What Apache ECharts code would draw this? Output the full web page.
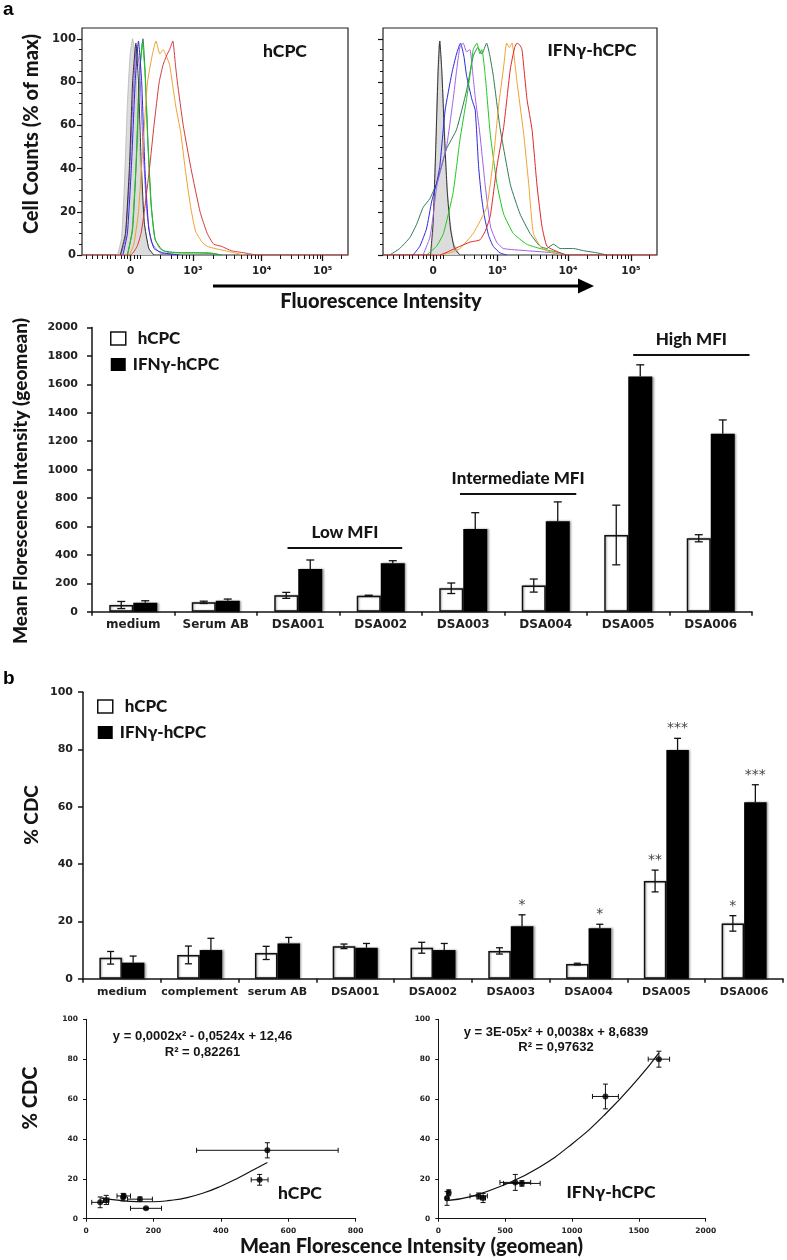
<!DOCTYPE html>
<html><head><meta charset="utf-8">
<script src="https://cdn.jsdelivr.net/npm/echarts@6/dist/echarts.min.js"></script>
<style>html,body{margin:0;padding:0;background:#fff}#c{width:787px;height:1260px}</style>
</head><body><div id="c"></div>
<script>
// ---------- histogram data (x in display units: 2 = "0", ~3 = 10^3, ...) ----------
const HIST_TICK_POS = [2, 2.96, 4.02, 4.96];
const HIST_TICK_LABELS = ['0', '10³', '10⁴', '10⁵'];
const HIST_MINOR_TICKS = [1.31,1.41,1.49,1.56,1.64,1.69,1.77,1.85,1.9,1.95,2.05,2.1,2.15,2.46,2.62,2.72,2.8,2.85,2.9,
  3.28,3.47,3.6,3.7,3.79,3.86,3.92,3.97,4.3,4.47,4.59,4.68,4.75,4.81,4.87,4.92,5.24];
const HIST_Y_TICKS = [0,20,40,60,80,100];
const HIST_Y_MINOR = [5,10,15,25,30,35,45,50,55,65,70,75,85,90,95];

const H1_GRAY = [[1.80,0],[1.86,8],[1.90,30],[1.95,70],[1.99,92],[2.03,100],[2.07,92],[2.12,60],[2.17,30],[2.22,12],[2.28,3],[2.35,0]];
const H1_BLACK = [[1.84,0],[1.92,10],[1.98,40],[2.03,80],[2.08,98],[2.12,80],[2.16,45],[2.21,15],[2.28,3],[2.36,0]];
const H1_PURPLE = [[1.85,0],[1.92,8],[1.98,35],[2.04,75],[2.09,97],[2.14,85],[2.19,50],[2.25,20],[2.32,6],[2.45,1],[2.7,0]];
const H1_BLUE = [[1.88,0],[1.95,10],[2.01,40],[2.07,80],[2.12,99],[2.17,80],[2.22,40],[2.28,12],[2.36,3],[2.5,1],[2.75,0]];
const H1_DKGREEN = [[1.95,0],[2.03,12],[2.09,45],[2.14,85],[2.19,100],[2.23,80],[2.27,50],[2.32,22],[2.38,7],[2.5,2],[2.8,1],[3.2,1],[3.4,0]];
const H1_GREEN = [[1.95,0],[2.02,10],[2.08,40],[2.13,80],[2.18,98],[2.22,85],[2.26,55],[2.31,25],[2.37,8],[2.45,3],[2.6,1],[3.0,1],[3.3,0.5],[3.4,0]];
const H1_ORANGE = [[1.98,0],[2.05,5],[2.12,20],[2.2,55],[2.26,80],[2.33,92],[2.39,99],[2.45,93],[2.5,95],[2.55,92],[2.6,88],[2.65,78],[2.7,68],[2.77,57],[2.84,40],[2.92,23],[3.0,11],[3.1,6],[3.18,4],[3.3,3],[3.45,2],[3.6,1],[3.75,0]];
const H1_RED = [[1.25,0],[2.0,0],[2.1,4],[2.16,10],[2.21,20],[2.29,40],[2.36,60],[2.44,80],[2.5,88],[2.55,92],[2.6,95],[2.65,99],[2.69,88],[2.72,80],[2.81,60],[2.93,40],[3.07,20],[3.18,10],[3.28,5],[3.4,4],[3.55,2],[3.75,1],[3.95,0],[5.35,0]];

const H2_GRAY = [[1.97,0],[2.0,12],[2.03,40],[2.06,75],[2.09,98],[2.12,90],[2.155,70],[2.195,40],[2.23,22],[2.3,6],[2.4,0]];
const H2_BLACK = [[1.96,0],[2.0,15],[2.04,50],[2.075,85],[2.1,99],[2.13,85],[2.17,55],[2.21,30],[2.26,12],[2.32,3],[2.4,0]];
const H2_DKGREEN = [[1.35,0],[1.5,3],[1.65,8],[1.75,14],[1.85,22],[1.95,26],[2.05,33],[2.2,49],[2.35,58],[2.5,76],[2.6,92],[2.67,96],[2.73,93],[2.8,98],[2.85,92],[2.9,83],[3.0,59],[3.08,45],[3.16,32],[3.3,19],[3.45,10],[3.6,4],[3.7,3],[3.8,5],[3.9,3],[4.1,3],[4.25,2],[4.45,1],[4.6,0]];
const H2_BLUE = [[1.7,0],[1.8,4],[1.9,12],[1.98,25],[2.05,33],[2.1,41],[2.18,67],[2.28,84],[2.35,93],[2.41,98],[2.46,92],[2.5,83],[2.58,72],[2.63,67],[2.68,41],[2.72,28],[2.76,19],[2.83,9],[2.9,4],[3.0,1],[3.1,0]];
const H2_PURPLE = [[1.85,0],[1.95,8],[2.0,18],[2.055,32],[2.2,50],[2.3,72],[2.35,85],[2.4,96],[2.45,98],[2.5,94],[2.55,95],[2.6,82],[2.63,73],[2.7,56],[2.78,32],[2.86,13],[2.95,6],[3.05,3],[3.4,2],[3.8,1],[3.95,0]];
const H2_GREEN = [[1.9,0],[2.05,4],[2.155,10],[2.3,29],[2.4,53],[2.5,72],[2.56,85],[2.6,95],[2.655,98],[2.7,93],[2.73,95],[2.78,83],[2.855,56],[2.955,33],[3.055,19],[3.2,10],[3.4,5],[3.6,3],[3.9,1],[4.0,0]];
const H2_ORANGE = [[2.1,0],[2.25,1],[2.4,3],[2.6,10],[2.8,22],[2.9,44],[2.98,69],[3.055,87],[3.1,98],[3.14,96],[3.18,98],[3.255,80],[3.355,56],[3.43,33],[3.5,10],[3.63,3],[3.8,1],[3.9,0]];
const H2_RED = [[1.25,0],[2.1,0],[2.255,2],[2.4,4],[2.555,6],[2.7,7],[2.78,11],[2.855,18],[2.955,41],[3.055,59],[3.155,86],[3.22,96],[3.255,98],[3.3,97],[3.33,95],[3.405,72],[3.48,58],[3.555,32],[3.63,13],[3.705,4],[3.9,1],[4.0,0],[5.35,0]];

// ---------- panel a: MFI bars ----------
const CAT_A = ['medium','Serum AB','DSA001','DSA002','DSA003','DSA004','DSA005','DSA006'];
const MFI_HCPC = [47, 66, 115, 113, 165, 184, 540, 517];
const MFI_HCPC_ERR = [25, 8, 21, 3, 37, 46, 210, 25];
const MFI_IFN = [63, 77, 300, 341, 582, 636, 1655, 1253];
const MFI_IFN_ERR = [14, 12, 64, 18, 115, 137, 83, 97];
const BRACKET_LABELS = ['Low MFI', 'Intermediate MFI', 'High MFI'];
const BRACKET_CATS = [[2, 3], [4, 5], [6, 7]];
const BRACKET_Y = [448, 828, 1807];

// ---------- panel b: CDC bars ----------
const CAT_B = ['medium','complement','serum AB','DSA001','DSA002','DSA003','DSA004','DSA005','DSA006'];
const CDC_HCPC = [7.3, 8.3, 9.0, 11.3, 10.8, 9.7, 5.1, 34.1, 19.3];
const CDC_HCPC_ERR = [2.2, 3.1, 2.3, 0.8, 1.9, 1.1, 0.3, 3.8, 2.7];
const CDC_IFN = [5.6, 10.0, 12.3, 10.8, 10.0, 18.3, 17.6, 79.8, 61.6];
const CDC_IFN_ERR = [2.3, 4.1, 2.1, 1.5, 2.3, 4.0, 1.4, 4.1, 6.1];
const STARS_HCPC = ['', '', '', '', '', '', '', '**', '*'];
const STARS_IFN = ['', '', '', '', '', '*', '*', '***', '***'];

// ---------- correlation scatters ----------
const SC1_X = [42, 60, 112, 110, 160, 178, 538, 515];
const SC1_XERR = [25, 8, 20, 4, 37, 46, 210, 25];
const SC1_Y = [8.2, 9.4, 11.4, 10.8, 9.8, 5.2, 34.3, 19.5];
const SC1_YERR = [2.7, 2.3, 1.0, 1.9, 1.1, 0.5, 3.8, 2.7];
const SC1_TREND = [[45,10.3],[100,9.2],[150,8.6],[200,8.5],[250,9.2],[300,10.6],[350,13.0],[400,16.3],[450,20.3],[500,24.8],[538,28.2]];
const SC2_X = [65, 78, 302, 335, 576, 625, 1650, 1250];
const SC2_XERR = [12, 10, 65, 18, 115, 137, 80, 97];
const SC2_Y = [10.2, 13.0, 11.4, 10.4, 18.2, 17.7, 80.0, 61.3];
const SC2_YERR = [3.5, 1.5, 1.5, 2.3, 4.0, 1.4, 4.0, 6.2];
const SC2_TREND = [[60,9.1],[250,11.2],[500,17.2],[750,25.6],[1000,37.5],[1250,52.5],[1500,70.6],[1650,83.2]];

// ---------- styles ----------
const BIG = 'Lato, "Open Sans", "Noto Sans", sans-serif';
const BIGW = 900;
const TICKF = '"DejaVu Sans", Verdana, sans-serif';
const ARIAL = '"Liberation Sans", Arial, sans-serif';
const INK = '#151515';
const plain = v => String(v);

const chart = echarts.init(document.getElementById('c'), null, {renderer: 'canvas'});

function histX(grid, major) {
  return major ? {
    type: 'value', gridIndex: grid, min: 1.25, max: 5.35, position: 'bottom',
    splitLine: {show: false}, axisLine: {show: false},
    axisTick: {show: true, length: 6, customValues: HIST_TICK_POS, lineStyle: {color: INK, width: 1.3}},
    axisLabel: {show: true, customValues: HIST_TICK_POS, margin: 11, fontFamily: TICKF, fontWeight: 'bold', fontSize: 10.5, color: '#222',
      formatter: v => { const i = HIST_TICK_POS.findIndex(p => Math.abs(p - v) < 1e-6); return i >= 0 ? HIST_TICK_LABELS[i] : ''; }}
  } : {
    type: 'value', gridIndex: grid, min: 1.25, max: 5.35, position: 'bottom',
    splitLine: {show: false}, axisLine: {show: false}, axisLabel: {show: false},
    axisTick: {show: true, length: 4, customValues: HIST_MINOR_TICKS, lineStyle: {color: INK, width: 1}}
  };
}
function histY(grid, major, labels) {
  return major ? {
    type: 'value', gridIndex: grid, min: 0, max: 105, position: 'left',
    splitLine: {show: false}, axisLine: {show: false},
    axisTick: {show: true, length: 5, customValues: HIST_Y_TICKS, lineStyle: {color: INK, width: 1.2}},
    axisLabel: {show: labels, customValues: HIST_Y_TICKS, margin: 6, fontFamily: TICKF, fontWeight: 'bold', fontSize: 11.5, color: '#222', formatter: plain}
  } : {
    type: 'value', gridIndex: grid, min: 0, max: 105, position: 'left',
    splitLine: {show: false}, axisLine: {show: false}, axisLabel: {show: false},
    axisTick: {show: true, length: 3, customValues: HIST_Y_MINOR, lineStyle: {color: INK, width: 1}}
  };
}
function hist(data, color, xi, yi, extra) {
  return Object.assign({type: 'line', xAxisIndex: xi, yAxisIndex: yi, data: data, showSymbol: false, smooth: 0.15,
    silent: true, lineStyle: {color: color, width: 1}}, extra || {});
}
function grayHist(data, xi, yi) {
  return hist(data, '#b0b0b0', xi, yi, {lineStyle: {color: '#b8b8b8', width: 0.8}, areaStyle: {color: '#dcdcdc', opacity: 1}});
}

function catErr(barW, side, both, capW, stars) {
  return function (params, api) {
    const i = api.value(0), v = api.value(1), e = api.value(2);
    const x = api.coord([i, v])[0] + side * barW / 2;
    const yTop = api.coord([i, v + e])[1];
    const yBot = both ? api.coord([i, v - e])[1] : api.coord([i, v])[1];
    const st = {stroke: '#111', lineWidth: 1.3};
    const ch = [
      {type: 'line', shape: {x1: x, y1: yTop, x2: x, y2: yBot}, style: st},
      {type: 'line', shape: {x1: x - capW / 2, y1: yTop, x2: x + capW / 2, y2: yTop}, style: st}
    ];
    if (both) ch.push({type: 'line', shape: {x1: x - capW / 2, y1: yBot, x2: x + capW / 2, y2: yBot}, style: st});
    if (stars && stars[params.dataIndex]) {
      ch.push({type: 'text', style: {text: stars[params.dataIndex], x: x, y: yTop - 9.5, align: 'center', verticalAlign: 'middle',
        fontSize: 14, fontFamily: TICKF, fill: '#444'}});
    }
    return {type: 'group', children: ch};
  };
}
function xyErr(params, api) {
  const x = api.value(0), y = api.value(1), xe = api.value(2), ye = api.value(3);
  const c = api.coord([x, y]);
  const xl = api.coord([x - xe, y])[0], xr = api.coord([x + xe, y])[0];
  const yt = api.coord([x, y + ye])[1], yb = api.coord([x, y - ye])[1];
  const st = {stroke: '#111', lineWidth: 1}, cap = 2.5;
  return {type: 'group', children: [
    {type: 'line', shape: {x1: xl, y1: c[1], x2: xr, y2: c[1]}, style: st},
    {type: 'line', shape: {x1: xl, y1: c[1] - cap, x2: xl, y2: c[1] + cap}, style: st},
    {type: 'line', shape: {x1: xr, y1: c[1] - cap, x2: xr, y2: c[1] + cap}, style: st},
    {type: 'line', shape: {x1: c[0], y1: yt, x2: c[0], y2: yb}, style: st},
    {type: 'line', shape: {x1: c[0] - cap, y1: yt, x2: c[0] + cap, y2: yt}, style: st},
    {type: 'line', shape: {x1: c[0] - cap, y1: yb, x2: c[0] + cap, y2: yb}, style: st}
  ]};
}
const BRACKET_OFFSETS = [[-0.13, 0.26], [-0.04, 0.37], [0.06, 0.47]];
function bracket(params, api) {
  const k = params.dataIndex;
  const w = api.size([1, 0])[0];
  const p1 = api.coord([api.value(0), api.value(2)]);
  const p2 = api.coord([api.value(1), api.value(2)]);
  const x1 = p1[0] + BRACKET_OFFSETS[k][0] * w, x2 = p2[0] + BRACKET_OFFSETS[k][1] * w;
  return {type: 'group', children: [
    {type: 'line', shape: {x1: x1, y1: p1[1], x2: x2, y2: p1[1]}, style: {stroke: '#111', lineWidth: 2}},
    {type: 'text', style: {text: BRACKET_LABELS[k], x: (x1 + x2) / 2, y: p1[1] - 16, align: 'center', verticalAlign: 'middle',
      fontSize: 17, fontWeight: BIGW, fontFamily: BIG, fill: INK}}
  ]};
}

const catAxisCommon = {
  axisLine: {lineStyle: {color: INK, width: 1.5}},
  axisTick: {show: true, length: 4, lineStyle: {color: INK, width: 1.5}},
  splitLine: {show: false}
};
const valAxisCommon = {
  axisLine: {show: true, lineStyle: {color: INK, width: 1.5}},
  axisTick: {show: true, length: 5, lineStyle: {color: INK, width: 1.5}},
  splitLine: {show: false}
};

const BW_A = 24, BW_B = 22.5;
const whiteBar = {color: '#fff', borderColor: '#111', borderWidth: 1.5, shadowColor: 'rgba(0,0,0,0.35)', shadowBlur: 2, shadowOffsetX: 1};
const blackBar = {color: '#000', shadowColor: 'rgba(0,0,0,0.4)', shadowBlur: 2, shadowOffsetX: 1.5};

function legendDef(left, top) {
  return {left: left, top: top, orient: 'vertical', padding: 0, itemWidth: 15, itemHeight: 13, itemGap: 9,
    selectedMode: false, icon: 'rect',
    textStyle: {fontFamily: BIG, fontWeight: BIGW, fontSize: 17, lineHeight: 17, color: INK},
    data: [
      {name: 'hCPC', itemStyle: {color: '#fff', borderColor: '#111', borderWidth: 1.5}, textStyle: {padding: [0, 0, 0, 7]}},
      {name: 'IFNγ-hCPC', itemStyle: {color: '#000', borderWidth: 0}, textStyle: {padding: [0, 0, 0, 2]}}
    ]};
}

function bigText(text, x, y, size, rot) {
  return {type: 'text', x: x, y: y, rotation: rot ? Math.PI / 2 : 0,
    style: {text: text, align: 'center', verticalAlign: 'middle', fontSize: size, fontWeight: BIGW, fontFamily: BIG, fill: INK}};
}
function eqText(text, x, y) {
  return {type: 'text', x: x, y: y, style: {text: text, align: 'center', verticalAlign: 'middle', fontSize: 13, fontWeight: 'bold', fontFamily: ARIAL, fill: INK}};
}
const scLabel = {margin: 8, fontFamily: TICKF, fontWeight: 'bold', fontSize: 7.5, color: '#222', formatter: plain};
const scLine = {axisLine: {show: true, lineStyle: {color: INK, width: 1}}, axisTick: {show: true, length: 3, lineStyle: {color: INK, width: 1}}, splitLine: {show: false}};

const option = {
  animation: false,
  backgroundColor: '#fff',
  grid: [
    {left: 82, top: 28, width: 266, height: 227, show: true, borderColor: '#222', borderWidth: 1.2, backgroundColor: 'transparent'},
    {left: 383, top: 28, width: 274, height: 227, show: true, borderColor: '#222', borderWidth: 1.2, backgroundColor: 'transparent'},
    {left: 92, top: 327.6, width: 660, height: 284.1},
    {left: 83, top: 692.2, width: 700, height: 286.5},
    {left: 86, top: 1019.3, width: 269.7, height: 199.4},
    {left: 438.3, top: 1019.3, width: 267.4, height: 199.4}
  ],
  xAxis: [
    histX(0, true), histX(0, false), histX(1, true), histX(1, false),
    Object.assign({type: 'category', gridIndex: 2, data: CAT_A,
      axisLabel: {margin: 7, interval: 0, fontFamily: TICKF, fontWeight: 'bold', fontSize: 12, color: '#222'}}, catAxisCommon),
    Object.assign({type: 'category', gridIndex: 3, data: CAT_B,
      axisLabel: {margin: 8, interval: 0, fontFamily: TICKF, fontWeight: 'bold', fontSize: 11, color: '#222'}}, catAxisCommon),
    Object.assign({type: 'value', gridIndex: 4, min: 0, max: 800, interval: 200, axisLabel: scLabel}, scLine),
    Object.assign({type: 'value', gridIndex: 5, min: 0, max: 2000, interval: 500, axisLabel: scLabel}, scLine)
  ],
  yAxis: [
    histY(0, true, true), histY(0, false), histY(1, true, false), histY(1, false),
    Object.assign({type: 'value', gridIndex: 2, min: 0, max: 2000, interval: 200,
      axisLabel: {margin: 14, fontFamily: TICKF, fontWeight: 'bold', fontSize: 11, color: '#222', formatter: plain}}, valAxisCommon),
    Object.assign({type: 'value', gridIndex: 3, min: 0, max: 100, interval: 20,
      axisLabel: {margin: 10, fontFamily: TICKF, fontWeight: 'bold', fontSize: 11, color: '#222', formatter: plain}}, valAxisCommon),
    Object.assign({type: 'value', gridIndex: 4, min: 0, max: 100, interval: 20, axisLabel: scLabel}, scLine),
    Object.assign({type: 'value', gridIndex: 5, min: 0, max: 100, interval: 20, axisLabel: scLabel}, scLine)
  ],
  legend: [legendDef(110, 330), legendDef(97, 698)],
  series: [
    // hist 1
    grayHist(H1_GRAY, 0, 0),
    hist(H1_DKGREEN, '#2e7a55', 0, 0),
    hist(H1_GREEN, '#1ec81e', 0, 0),
    hist(H1_PURPLE, '#a060e8', 0, 0),
    hist(H1_BLUE, '#2a2ad8', 0, 0),
    hist(H1_BLACK, '#333', 0, 0),
    hist(H1_ORANGE, '#f0a030', 0, 0),
    hist(H1_RED, '#d23c3c', 0, 0),
    // hist 2
    grayHist(H2_GRAY, 2, 2),
    hist(H2_BLACK, '#333', 2, 2),
    hist(H2_DKGREEN, '#2e7a55', 2, 2),
    hist(H2_BLUE, '#2a2ad8', 2, 2),
    hist(H2_PURPLE, '#a060e8', 2, 2),
    hist(H2_GREEN, '#1ec81e', 2, 2),
    hist(H2_ORANGE, '#f0a030', 2, 2),
    hist(H2_RED, '#e02626', 2, 2),
    // bar a
    {type: 'bar', name: 'hCPC', xAxisIndex: 4, yAxisIndex: 4, data: MFI_HCPC, barWidth: BW_A, barGap: '0%', itemStyle: whiteBar},
    {type: 'bar', name: 'IFNγ-hCPC', xAxisIndex: 4, yAxisIndex: 4, data: MFI_IFN, barWidth: BW_A, barGap: '0%', itemStyle: blackBar},
    {type: 'custom', xAxisIndex: 4, yAxisIndex: 4, encode: {x: 0, y: 1}, z: 5, clip: false,
      data: CAT_A.map((c, i) => [i, MFI_HCPC[i], MFI_HCPC_ERR[i]]), renderItem: catErr(BW_A, -1, true, 8)},
    {type: 'custom', xAxisIndex: 4, yAxisIndex: 4, encode: {x: 0, y: 1}, z: 5, clip: false,
      data: CAT_A.map((c, i) => [i, MFI_IFN[i], MFI_IFN_ERR[i]]), renderItem: catErr(BW_A, 1, false, 8)},
    {type: 'custom', xAxisIndex: 4, yAxisIndex: 4, encode: {x: 0, y: 2}, z: 5, clip: false,
      data: BRACKET_CATS.map((c, i) => [c[0], c[1], BRACKET_Y[i]]), renderItem: bracket},
    // bar b
    {type: 'bar', name: 'hCPC', xAxisIndex: 5, yAxisIndex: 5, data: CDC_HCPC, barWidth: BW_B, barGap: '0%', itemStyle: whiteBar},
    {type: 'bar', name: 'IFNγ-hCPC', xAxisIndex: 5, yAxisIndex: 5, data: CDC_IFN, barWidth: BW_B, barGap: '0%', itemStyle: blackBar},
    {type: 'custom', xAxisIndex: 5, yAxisIndex: 5, encode: {x: 0, y: 1}, z: 5, clip: false,
      data: CAT_B.map((c, i) => [i, CDC_HCPC[i], CDC_HCPC_ERR[i]]), renderItem: catErr(BW_B, -1, true, 7, STARS_HCPC)},
    {type: 'custom', xAxisIndex: 5, yAxisIndex: 5, encode: {x: 0, y: 1}, z: 5, clip: false,
      data: CAT_B.map((c, i) => [i, CDC_IFN[i], CDC_IFN_ERR[i]]), renderItem: catErr(BW_B, 1, false, 7, STARS_IFN)},
    // scatter 1
    {type: 'line', xAxisIndex: 6, yAxisIndex: 6, data: SC1_TREND, smooth: true, showSymbol: false, silent: true, lineStyle: {color: '#111', width: 1.2}},
    {type: 'custom', xAxisIndex: 6, yAxisIndex: 6, encode: {x: 0, y: 1}, clip: false,
      data: SC1_X.map((x, i) => [x, SC1_Y[i], SC1_XERR[i], SC1_YERR[i]]), renderItem: xyErr},
    {type: 'scatter', xAxisIndex: 6, yAxisIndex: 6, symbolSize: 6, itemStyle: {color: '#000'},
      data: SC1_X.map((x, i) => [x, SC1_Y[i]])},
    // scatter 2
    {type: 'line', xAxisIndex: 7, yAxisIndex: 7, data: SC2_TREND, smooth: true, showSymbol: false, silent: true, lineStyle: {color: '#111', width: 1.2}},
    {type: 'custom', xAxisIndex: 7, yAxisIndex: 7, encode: {x: 0, y: 1}, clip: false,
      data: SC2_X.map((x, i) => [x, SC2_Y[i], SC2_XERR[i], SC2_YERR[i]]), renderItem: xyErr},
    {type: 'scatter', xAxisIndex: 7, yAxisIndex: 7, symbolSize: 6, itemStyle: {color: '#000'},
      data: SC2_X.map((x, i) => [x, SC2_Y[i]])}
  ],
  graphic: [
    {type: 'text', left: 3, top: 0, style: {text: 'a', fontSize: 19, fontWeight: 'bold', fontFamily: ARIAL, fill: '#000'}},
    {type: 'text', left: 3, top: 669, style: {text: 'b', fontSize: 19, fontWeight: 'bold', fontFamily: ARIAL, fill: '#000'}},
    bigText('Cell Counts (% of max)', 32, 134, 20, true),
    bigText('hCPC', 285, 51.5, 17.5),
    bigText('IFNγ-hCPC', 592, 50, 17.5),
    {type: 'polyline', shape: {points: [[213, 286], [582, 286]]}, style: {stroke: '#000', lineWidth: 3.2}},
    {type: 'polygon', shape: {points: [[578, 278.5], [594, 286], [578, 293.5]]}, style: {fill: '#000'}},
    bigText('Fluorescence Intensity', 381, 302, 20),
    bigText('Mean Florescence Intensity (geomean)', 21, 481, 19, true),
    bigText('% CDC', 32, 815, 19, true),
    eqText('y = 0,0002x² - 0,0524x + 12,46', 202.5, 1036),
    eqText('R² = 0,82261', 202.5, 1052),
    eqText('y = 3E-05x² + 0,0038x + 8,6839', 556, 1032),
    eqText('R² = 0,97632', 556, 1047),
    bigText('hCPC', 300, 1193, 17.5),
    bigText('IFNγ-hCPC', 611, 1192, 17.5),
    bigText('% CDC', 31, 1098, 20, true),
    bigText('Mean Florescence Intensity (geomean)', 411.5, 1247, 20)
  ]
};
chart.setOption(option);
</script></body></html>
